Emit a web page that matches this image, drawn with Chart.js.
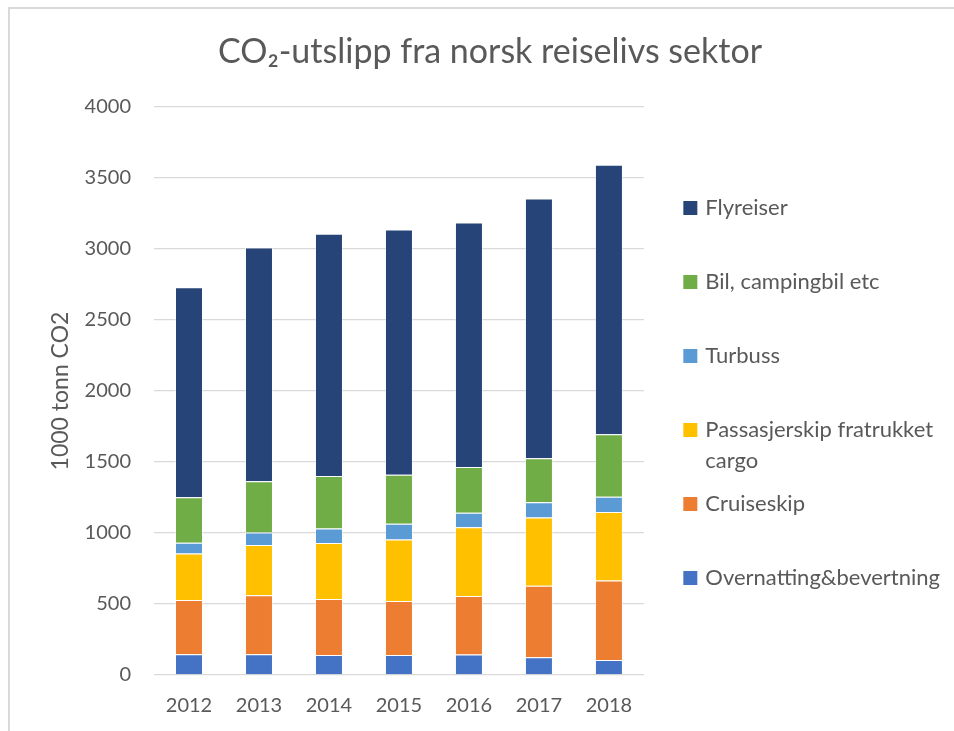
<!DOCTYPE html>
<html>
<head>
<meta charset="utf-8">
<script src="https://cdn.jsdelivr.net/npm/chart.js@4.4.1/dist/chart.umd.min.js"></script>
<style>
  html, body { margin: 0; padding: 0; background: #fff; overflow: hidden; }
  #frame {
    position: absolute; left: 8px; top: 7px;
    width: 960px; height: 740px;
    border-top: 2px solid #d9d9d9; border-left: 2px solid #d9d9d9;
  }
  #wrap { position: relative; width: 960px; height: 740px; }
</style>
</head>
<body>
<div id="frame"><div id="wrap"><canvas id="chart"></canvas></div></div>
<script>
const years = ['2012', '2013', '2014', '2015', '2016', '2017', '2018'];

// 1000 tonn CO2
const overnatting = [146, 146, 141, 141, 144, 125, 106];
const cruiseskip = [382, 415, 394, 380, 412, 504, 559];
const passasjerskip = [327, 354, 394, 434, 484, 481, 483];
const turbuss = [77, 88, 102, 111, 103, 106, 108];
const bil = [319, 361, 370, 345, 322, 310, 439];
const flyreiser = [1479, 1646, 1707, 1727, 1721, 1829, 1898];

const yTicks = [0, 500, 1000, 1500, 2000, 2500, 3000, 3500, 4000];

const textColor = '#595959';
const fontFamily = 'Lato, "Open Sans", sans-serif';

function series(label, data, color) {
    return {
        label: label,
        data: data,
        backgroundColor: color,
        borderColor: 'rgba(255,255,255,0.45)',
        borderWidth: 1,
        barPercentage: 0.4,
        categoryPercentage: 1
    };
}

const datasets = [
    series('Overnatting&bevertning', overnatting, '#4472C4'),
    series('Cruiseskip', cruiseskip, '#ED7D31'),
    series(['Passasjerskip fratrukket', 'cargo'], passasjerskip, '#FFC000'),
    series('Turbuss', turbuss, '#5B9BD5'),
    series('Bil, campingbil etc', bil, '#70AD47'),
    series('Flyreiser', flyreiser, '#264478')
];

const ctx = document.getElementById('chart');

new Chart(ctx, {
    type: 'bar',
    data: {
        labels: years,
        datasets: datasets
    },
    options: {
        responsive: true,
        maintainAspectRatio: false,
        animation: false,
        layout: {
            padding: { left: 20, right: 20, top: 0, bottom: 12 }
        },
        scales: {
            x: {
                stacked: true,
                grid: { display: false, drawTicks: false },
                border: { display: false },
                ticks: {
                    color: textColor,
                    font: { family: fontFamily, size: 20 },
                    padding: 19
                }
            },
            y: {
                stacked: true,
                min: 0,
                max: 4000,
                afterBuildTicks: (axis) => {
                    axis.ticks = yTicks.map(v => ({ value: v }));
                },
                afterFit: (axis) => {
                    axis.width = 124;
                },
                grid: {
                    color: '#d9d9d9',
                    lineWidth: 1.3,
                    drawTicks: false
                },
                border: { display: false },
                ticks: {
                    color: textColor,
                    font: { family: fontFamily, size: 20 },
                    padding: 23,
                    callback: (v) => String(v)
                },
                title: {
                    display: true,
                    text: '1000 tonn CO2',
                    color: textColor,
                    font: { family: fontFamily, size: 23, weight: 'normal' },
                    padding: { top: 17, bottom: 0 }
                }
            },
            spacer: {
                type: 'linear',
                position: 'right',
                display: true,
                grid: { display: false, drawTicks: false },
                border: { display: false },
                ticks: { display: false },
                afterFit: (axis) => {
                    axis.width = 30;
                }
            }
        },
        plugins: {
            title: {
                display: true,
                text: 'CO\u2082-utslipp fra norsk reiselivs sektor',
                color: textColor,
                font: { family: fontFamily, size: 34, weight: 'normal' },
                padding: { top: 22.6, bottom: 34.6 }
            },
            legend: {
                position: 'right',
                align: 'start',
                reverse: true,
                maxWidth: 400,
                title: {
                    display: true,
                    text: '',
                    font: { size: 10 },
                    padding: { top: 163.6, bottom: 0 }
                },
                labels: {
                    color: textColor,
                    font: { family: fontFamily, size: 22, lineHeight: 1.4 },
                    usePointStyle: true,
                    pointStyle: 'rect',
                    boxWidth: 8,
                    boxHeight: 14,
                    padding: 12.4,
                    generateLabels: (chart) => {
                        const items = Chart.defaults.plugins.legend.labels.generateLabels(chart);
                        items.forEach(item => {
                            const t = item.text;
                            item.text = Array.isArray(t) ? t : [t, ''];
                            item.lineWidth = 0;
                        });
                        return items;
                    }
                }
            },
            tooltip: {
                mode: 'index',
                intersect: false
            }
        }
    }
});
</script>
</body>
</html>
